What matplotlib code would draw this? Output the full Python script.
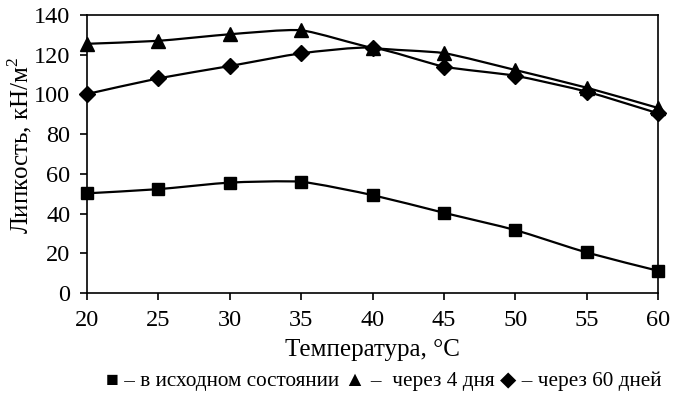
import numpy as np
import matplotlib
matplotlib.use("Agg")
import matplotlib.pyplot as plt
from matplotlib.path import Path
from matplotlib.patches import PathPatch

plt.rcParams["font.family"] = ["Liberation Serif", "DejaVu Sans"]
plt.rcParams["mathtext.fontset"] = "custom"
plt.rcParams["mathtext.rm"] = "Liberation Serif"

# Data
temperature = [20, 25, 30, 35, 40, 45, 50, 55, 60]
initial = [50.2, 52.3, 55.6, 56.0, 49.3, 40.4, 31.7, 20.4, 11.2]
after_4_days = [125.5, 127.0, 130.3, 132.3, 123.5, 120.8, 112.3, 103.4, 93.2]
after_60_days = [100.2, 108.1, 114.3, 120.7, 123.5, 114.0, 109.4, 101.4, 90.5]

x_ticks = [20, 25, 30, 35, 40, 45, 50, 55, 60]
y_ticks = [0, 20, 40, 60, 80, 100, 120, 140]
legend_text = ("\u25a0 \u2013 в исходном состоянии \u25b2 \u2013  через 4 дня "
               "\u25c6 \u2013 через 60 дней")


def smooth_path(x, y, tension=0.1):
    """Gentle cubic Bezier through the points (like Excel smoothing)."""
    x = np.asarray(x, float)
    y = np.asarray(y, float)
    verts = [(x[0], y[0])]
    codes = [Path.MOVETO]
    n = len(x)
    for i in range(n - 1):
        p0 = (x[max(i - 1, 0)], y[max(i - 1, 0)])
        p1 = (x[i], y[i])
        p2 = (x[i + 1], y[i + 1])
        p3 = (x[min(i + 2, n - 1)], y[min(i + 2, n - 1)])
        c1 = (p1[0] + (p2[0] - p0[0]) * tension, p1[1] + (p2[1] - p0[1]) * tension)
        c2 = (p2[0] - (p3[0] - p1[0]) * tension, p2[1] - (p3[1] - p1[1]) * tension)
        verts += [c1, c2, p2]
        codes += [Path.CURVE4] * 3
    return Path(verts, codes)


fig = plt.figure(figsize=(6.76, 3.98), dpi=100)
ax = fig.add_axes([0.1287, 0.2638, 0.8447, 0.6985])

series = [
    (initial, "s", 9),
    (after_4_days, "^", 10),
    (after_60_days, "D", 8.5),
]
for values, marker, ms in series:
    ax.add_patch(PathPatch(smooth_path(temperature, values), fill=False,
                           edgecolor="black", lw=1.6, zorder=2))
    ax.plot(temperature, values, linestyle="none", marker=marker, ms=ms,
            color="black", zorder=3, clip_on=False)

ax.set_xlim(20, 60)
ax.set_ylim(0, 140)
ax.set_xticks(x_ticks)
ax.set_yticks(y_ticks)
ax.tick_params(direction="out", length=5, width=1.2, labelsize=17.5, pad=7,
               colors="black")
for spine in ax.spines.values():
    spine.set_linewidth(1.2)

ax.set_xlabel("Температура, °С", fontsize=18, labelpad=6)
ax.set_ylabel("Липкость, кН/м$^2$", fontsize=18)
ax.yaxis.set_label_coords(-0.093, 0.53)

fig.text(0.567, 0.042, legend_text, ha="center", va="center", fontsize=15.3)

fig.savefig("out.png", dpi=100)
plt.close(fig)
